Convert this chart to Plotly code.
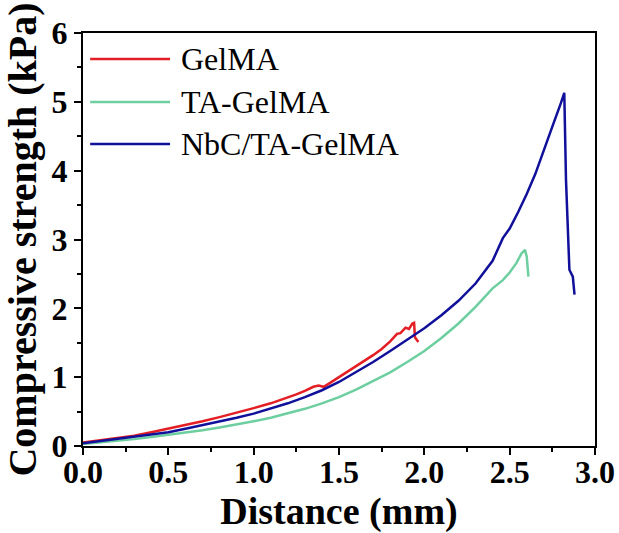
import plotly.graph_objects as go

# ---- data ----
gel_x = [0.0, 0.1, 0.2, 0.3, 0.4, 0.5, 0.6, 0.7, 0.8, 0.9, 1.0, 1.1, 1.2, 1.25, 1.3, 1.35, 1.38,
         1.41, 1.45, 1.5, 1.55, 1.6, 1.65, 1.7, 1.75, 1.8, 1.84, 1.86, 1.89, 1.91, 1.93, 1.94, 1.945, 1.965]
gel_y = [0.05, 0.08, 0.11, 0.15, 0.20, 0.25, 0.30, 0.36, 0.42, 0.48, 0.55, 0.62, 0.70, 0.75, 0.80, 0.86, 0.88,
         0.86, 0.92, 1.00, 1.07, 1.15, 1.23, 1.32, 1.41, 1.52, 1.63, 1.64, 1.72, 1.70, 1.78, 1.79, 1.58, 1.51]

ta_x = [0.0, 0.1, 0.2, 0.3, 0.4, 0.5, 0.6, 0.7, 0.8, 0.9, 1.0, 1.1, 1.2, 1.3, 1.4, 1.5, 1.6, 1.7,
        1.8, 1.9, 2.0, 2.1, 2.2, 2.3, 2.4, 2.46, 2.5, 2.54, 2.57, 2.59, 2.60, 2.61]
ta_y = [0.03, 0.05, 0.07, 0.10, 0.13, 0.16, 0.19, 0.23, 0.27, 0.31, 0.36, 0.41, 0.47, 0.54, 0.62, 0.71,
        0.82, 0.94, 1.07, 1.22, 1.38, 1.57, 1.78, 2.02, 2.29, 2.41, 2.52, 2.66, 2.80, 2.85, 2.75, 2.46]

nbc_x = [0.0, 0.1, 0.2, 0.3, 0.4, 0.5, 0.6, 0.7, 0.8, 0.9, 1.0, 1.1, 1.2, 1.3, 1.4, 1.5, 1.6, 1.7,
         1.8, 1.9, 2.0, 2.1, 2.2, 2.3, 2.4, 2.46, 2.5, 2.55, 2.6, 2.65, 2.7, 2.75, 2.8, 2.82,
         2.83, 2.85, 2.87, 2.88]
nbc_y = [0.04, 0.07, 0.10, 0.13, 0.16, 0.20, 0.25, 0.30, 0.35, 0.41, 0.47, 0.54, 0.62, 0.71, 0.81, 0.93,
         1.07, 1.22, 1.38, 1.54, 1.71, 1.90, 2.11, 2.36, 2.69, 3.02, 3.16, 3.40, 3.66, 3.95, 4.28, 4.64,
         4.98, 5.13, 3.87, 2.56, 2.46, 2.20]

names = ["GelMA", "TA-GelMA", "NbC/TA-GelMA"]
colors = ["#e31e24", "#6dcfa0", "#10109a"]

x_ticks = [0.0, 0.5, 1.0, 1.5, 2.0, 2.5, 3.0]
y_ticks = [0, 1, 2, 3, 4, 5, 6]

SERIF = "Times New Roman, Liberation Serif, serif"

fig = go.Figure()
for xs, ys, n, c in zip([gel_x, ta_x, nbc_x], [gel_y, ta_y, nbc_y], names, colors):
    fig.add_trace(go.Scatter(x=xs, y=ys, mode="lines", name=n,
                             line=dict(color=c, width=2.5), showlegend=False))

# custom legend (long line samples)
leg_y = [0.937, 0.833, 0.731]
for n, c, yy in zip(names, colors, leg_y):
    fig.add_shape(type="line", xref="x domain", yref="y domain",
                  x0=0.014, x1=0.170, y0=yy, y1=yy,
                  line=dict(color=c, width=2.5))
    fig.add_annotation(xref="x domain", yref="y domain", x=0.188, y=yy,
                       text=n, showarrow=False, xanchor="left", yanchor="middle",
                       font=dict(family=SERIF, size=32, color="black"))

axis_common = dict(
    showline=True, linecolor="black", linewidth=2, mirror=True,
    ticks="outside", ticklen=7, tickwidth=2, tickcolor="black",
    showgrid=False, zeroline=False, automargin=False,
    tickfont=dict(family=SERIF, size=32, color="black", weight="bold"),
)

fig.update_xaxes(range=[0, 3], tickvals=x_ticks, tickformat=".1f", ticklabelstandoff=-10,
                 minor=dict(ticks="outside", ticklen=4, tickwidth=2, tickcolor="black", dtick=0.25),
                 title=dict(text="Distance (mm)", standoff=2,
                            font=dict(family=SERIF, size=38, color="black", weight="bold")),
                 **axis_common)
fig.update_yaxes(range=[0, 6], tickvals=y_ticks,
                 minor=dict(ticks="outside", ticklen=4, tickwidth=2, tickcolor="black", dtick=0.5),
                 title=dict(text="Compressive strength (kPa)", standoff=4,
                            font=dict(family=SERIF, size=40, color="black", weight="bold")),
                 **axis_common)

fig.update_layout(width=619, height=533, margin=dict(l=83, r=24, t=33, b=87),
                  plot_bgcolor="white", paper_bgcolor="white")

fig.write_html("out.html")
